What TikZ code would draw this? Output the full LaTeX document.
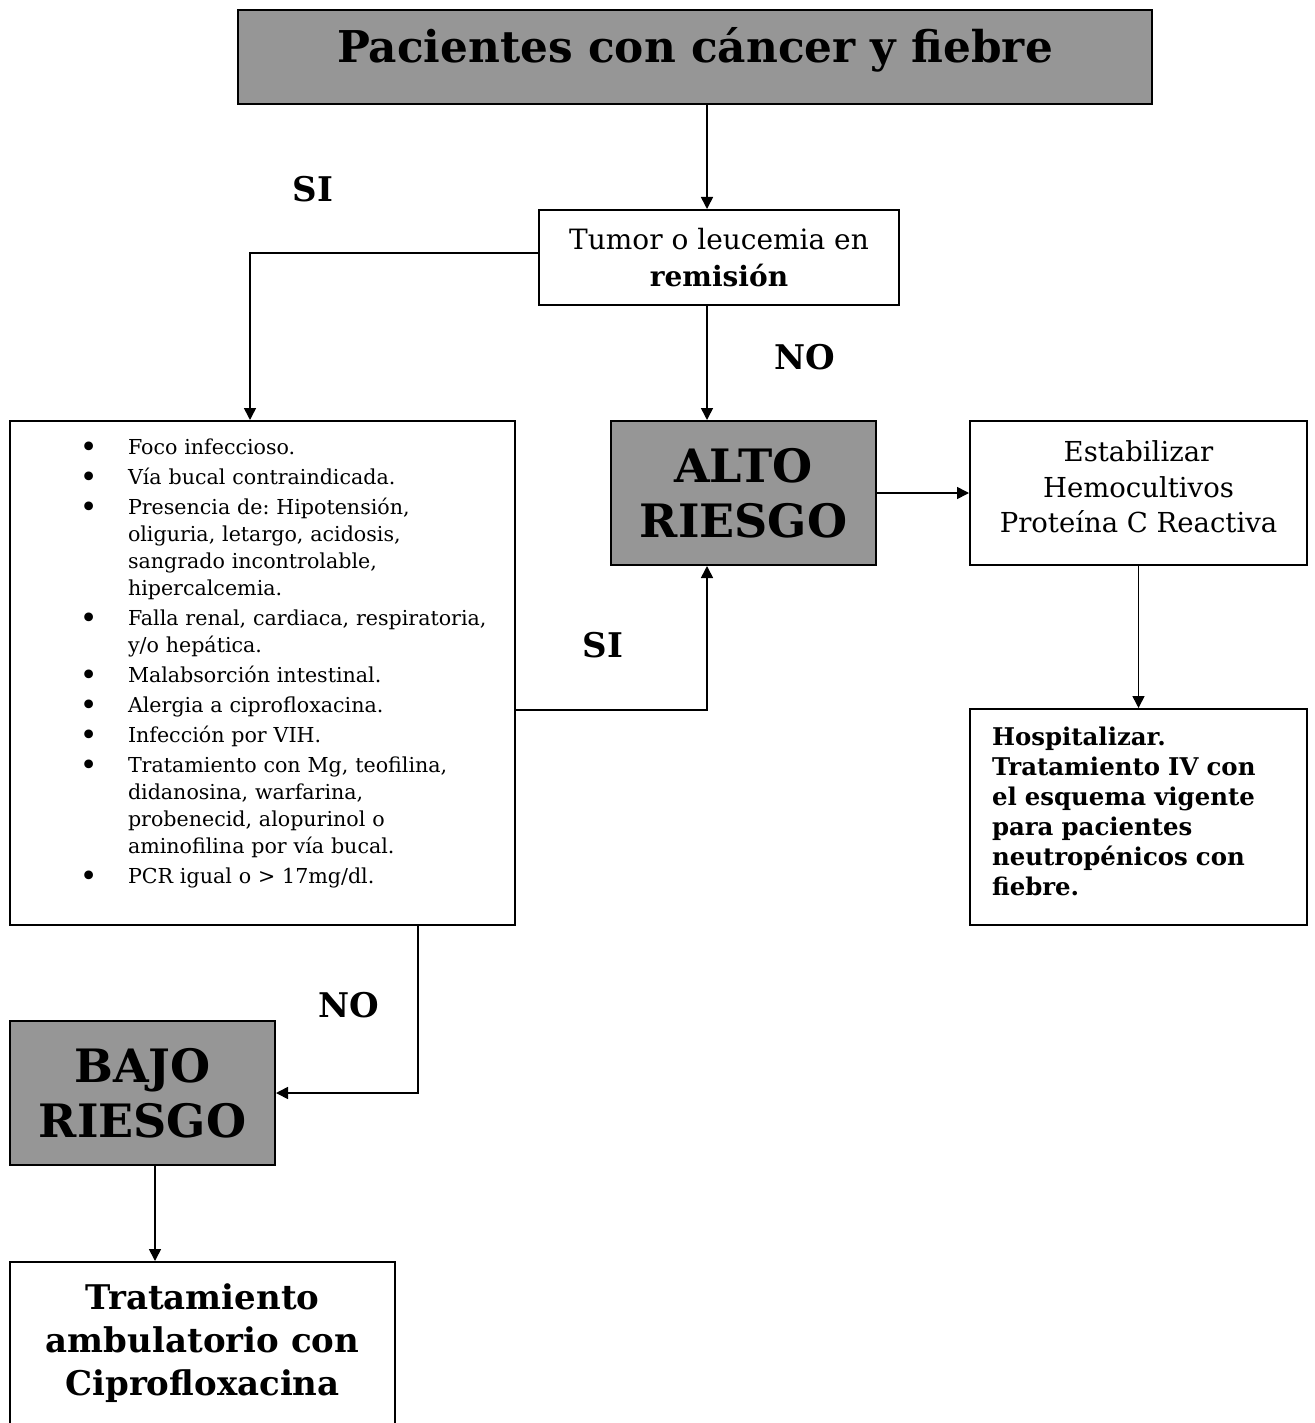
\documentclass[tikz,border=0pt]{standalone}
\usepackage{fontspec}
\setmainfont{DejaVu Serif}
\usetikzlibrary{positioning,arrows.meta,calc}
\frenchspacing
\definecolor{riskgrey}{HTML}{969696}
\newcommand{\critbullet}{\raisebox{-1.2pt}{\fontsize{15}{15}\selectfont\textbullet}}
\newcommand{\lowdepth}[1]{\rule[-#1]{0pt}{#1}}
\tikzset{
  box/.style={
    draw=black, line width=1pt, align=center, inner sep=0pt, text=black,
  },
  plain/.style={box, fill=white},
  risk/.style ={box, fill=riskgrey},
  flow/.style ={-{Triangle[length=6pt,width=6pt]}, draw=black, line width=0.8pt},
  ans/.style  ={font=\fontsize{17}{20}\selectfont\bfseries, inner sep=0pt},
}

\begin{document}
\begin{tikzpicture}[x=0.5pt,y=-0.5pt]
\clip (0,0) rectangle (1314,1423);
\fill[white] (0,0) rectangle (1314,1423);

\node[risk, minimum width=457pt, minimum height=47pt, text depth=12.5pt,
      font=\fontsize{21.9}{26}\selectfont\bfseries] (title) at (695,57)
  {Pacientes con cáncer y fiebre};

% ---------------------------------------------------------------- question
\node[plain, minimum width=180pt, minimum height=47.5pt,
      font=\fontsize{14}{18.5}\selectfont] (tumor) at (719,257.5)
  {Tumor o leucemia en\\\textbf{remisión}};

% ---------------------------------------------------------------- criteria
\node[plain, minimum width=252.5pt, minimum height=252pt, text width=252.5pt,
      align=left, font=\fontsize{10.3}{13.5}\selectfont] (crit) at (262.5,673)
  {\noindent\begin{tabular}{@{\hspace{35pt}}p{24pt}@{}l@{}}
   \critbullet & Foco infeccioso.\\[1.5pt]
   \critbullet & Vía bucal contraindicada.\\[1.5pt]
   \critbullet & Presencia de: Hipotensión,\\
               & oliguria, letargo, acidosis,\\
               & sangrado incontrolable,\\
               & hipercalcemia.\\[1.5pt]
   \critbullet & Falla renal, cardiaca, respiratoria,\\
               & y/o hepática.\\[1.5pt]
   \critbullet & Malabsorción intestinal.\\[1.5pt]
   \critbullet & Alergia a ciprofloxacina.\\[1.5pt]
   \critbullet & Infección por VIH.\\[1.5pt]
   \critbullet & Tratamiento con Mg, teofilina,\\
               & didanosina, warfarina,\\
               & probenecid, alopurinol o\\
               & aminofilina por vía bucal.\\[1.5pt]
   \critbullet & PCR igual o > 17mg/dl.\\[9pt]
   \end{tabular}};

% ---------------------------------------------------------------- high risk
\node[risk, minimum width=132.5pt, minimum height=72pt,
      font=\fontsize{23}{27.5}\selectfont\bfseries] (alto) at (743.5,493)
  {ALTO\\RIESGO};
\node[plain, minimum width=168.5pt, minimum height=72pt,
      font=\fontsize{13.75}{17.75}\selectfont] (estab) at (1138.5,493)
  {Estabilizar\\Hemocultivos\\Proteína C Reactiva\lowdepth{6pt}};
\node[plain, minimum width=168.5pt, minimum height=108pt, text width=146.5pt,
      align=left, font=\fontsize{12.2}{15}\selectfont\bfseries] (hosp) at (1138.5,817)
  {Hospitalizar.\\Tratamiento IV con\\el esquema vigente\\para pacientes\\
   neutropénicos con\\fiebre.\lowdepth{6pt}};

% ---------------------------------------------------------------- low risk
\node[risk, minimum width=132.5pt, minimum height=72pt,
      font=\fontsize{23}{27.5}\selectfont\bfseries] (bajo) at (142.5,1093)
  {BAJO\\RIESGO};
\node[plain, minimum width=192.5pt, minimum height=81.5pt,
      font=\fontsize{17}{21.5}\selectfont\bfseries] (trat) at (202.5,1343.5)
  {Tratamiento\\ambulatorio con\\Ciprofloxacina};

% ---------------------------------------------------------------- answers
\node[ans] (siup)   at (313,189)  {SI};
\node[ans] (noup)   at (805,357)  {NO};
\node[ans] (simid)  at (603,645)  {SI};
\node[ans] (nolow)  at (349,1005) {NO};

% ---------------------------------------------------------------- edges
\coordinate (spine) at (707,0);
\coordinate (lcol)  at (250,0);
\coordinate (ty)    at (0,253);
\coordinate (siy)   at (0,710);
\coordinate (nox)   at (418,0);
\coordinate (bcol)  at (155,0);
\draw[flow] (title.south -| spine) -- (tumor.north -| spine);
\draw[flow] (tumor.west |- ty) -| (crit.north -| lcol);
\draw[flow] (tumor.south -| spine) -- (alto.north -| spine);
\draw[flow] (crit.east |- siy) -| (alto.south -| spine);
\draw[flow] (alto.east) -- (estab.west);
\draw[flow] (estab.south) -- (hosp.north);
\draw[flow] (crit.south -| nox) |- (bajo.east);
\draw[flow] (bajo.south -| bcol) -- (trat.north -| bcol);

\end{tikzpicture}
\end{document}
